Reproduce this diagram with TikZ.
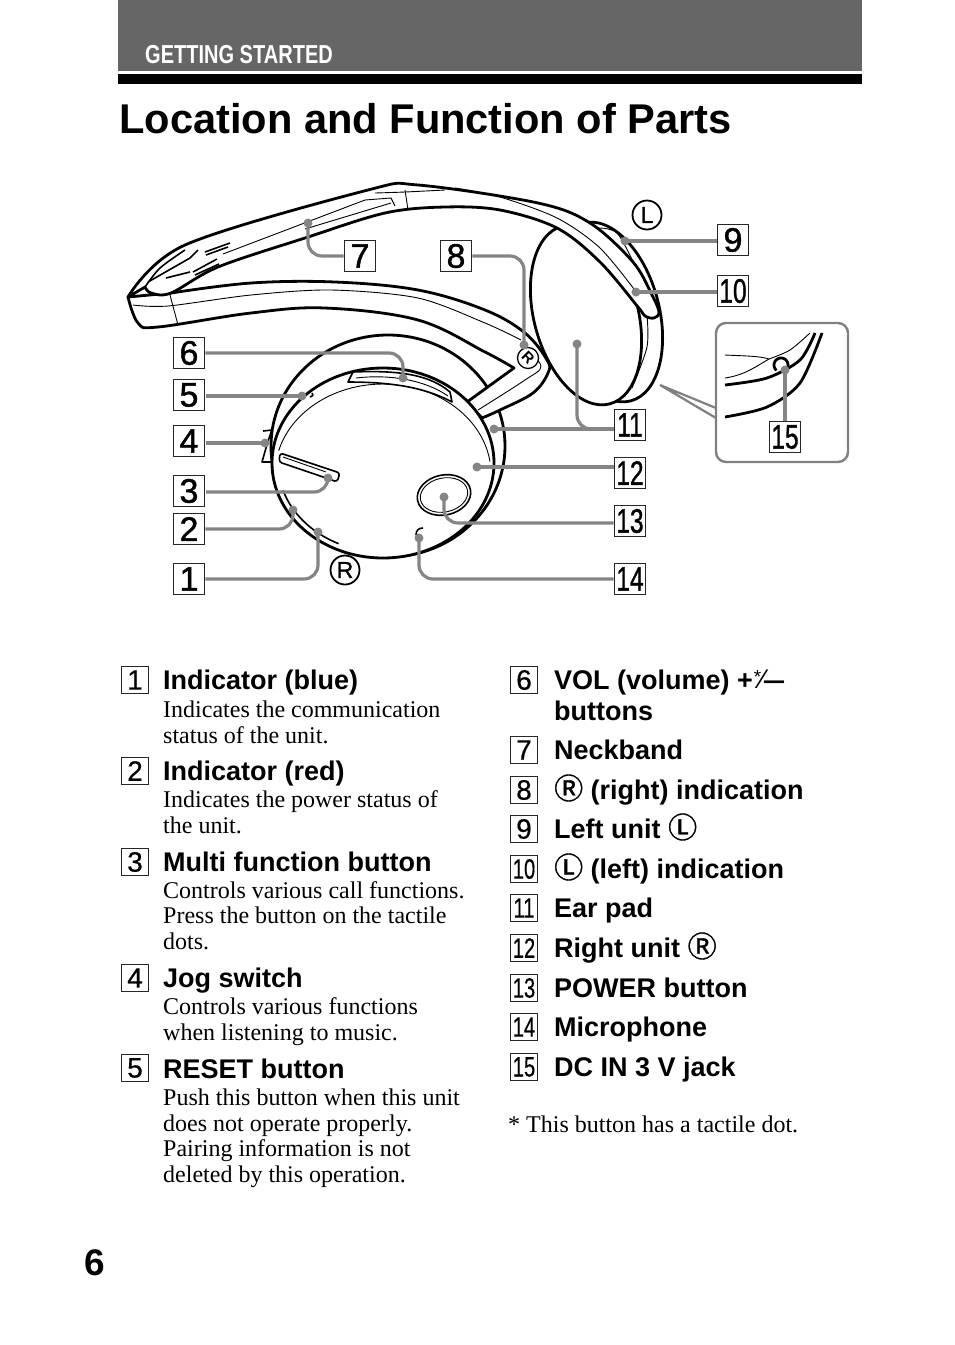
\documentclass[tikz,border=0pt]{standalone}
\usepackage{fontspec}
\usepackage{graphicx}
\setmainfont{Liberation Serif}
\setsansfont{Liberation Sans}
\newfontfamily\cjkm[FakeBold=1.2]{Noto Sans CJK JP}
\newfontfamily\partsans[FakeBold=1.3]{Liberation Sans}
\newfontfamily\listsans[FakeBold=0.5]{Liberation Sans}
\usetikzlibrary{calc}
\definecolor{leadgray}{gray}{0.52}
\newcommand{\cR}{{\mdseries\cjkm\fontsize{29}{29}\selectfont Ⓡ}}
\newcommand{\cL}{{\mdseries\cjkm\fontsize{29}{29}\selectfont Ⓛ}}
\newcommand{\nn}[1]{\scalebox{0.72}[1]{#1}}
\tikzset{x=1pt,y=-1pt,
 thick line/.style={line width=2.8pt,line join=round},
 mid line/.style={line width=1.6pt,line join=round},
 thin line/.style={line width=0.9pt,line join=round},
 leader/.style={draw=leadgray,line width=3.2pt,rounded corners=14pt},
 dotend/.style={circle,fill=leadgray,draw=none,inner sep=0pt,minimum size=9pt},
 partbox/.style={draw=black!85,line width=1.8pt,fill=white,minimum size=31pt,inner sep=0pt,font=\partsans\fontsize{34}{34}\selectfont},
 listbox/.style={draw=black!85,line width=1.4pt,fill=white,minimum size=27pt,inner sep=0pt,font=\listsans\fontsize{28}{28}\selectfont},
 headtext/.style={anchor=base west,inner sep=0pt,font=\sffamily\bfseries\fontsize{27}{27}\selectfont},
 desctext/.style={anchor=base west,inner sep=0pt,font=\rmfamily\fontsize{24}{24}\selectfont},
 circmark/.style={circle,draw=black,line width=1.8pt,inner sep=0pt,minimum size=29pt,font=\partsans\fontsize{23}{23}\selectfont},
}
\begin{document}
\begin{tikzpicture}
\useasboundingbox (0,0) rectangle (954,1345);
\fill[white] (0,0) rectangle (954,1345);
% header
\fill[black!60] (118,0) rectangle (862,71);
\fill[black] (118,74) rectangle (862,84);
\node[anchor=base west,inner sep=0pt,text=white,font=\sffamily\bfseries\fontsize{26}{26}\selectfont] (hdr) at (145,63) {\scalebox{0.77}[1]{GETTING STARTED}};
\node[anchor=base west,inner sep=0pt,font=\sffamily\bfseries\fontsize{41.6}{42}\selectfont] (title) at (119,133) {Location and Function of Parts};
\node[anchor=base west,inner sep=0pt,font=\sffamily\bfseries\fontsize{37}{37}\selectfont] (pageno) at (84,1275) {6};
% left unit
\draw[thick line,fill=white,rotate around={15:(607,312)}] (607,312) ellipse (52 and 92);
\draw[thin line] plot[smooth] coordinates {(647,315)(647,347)(632,388)};
\draw[thick line,fill=white,rotate around={15:(586,315)}] (586,315) ellipse (52 and 92);
\draw[thin line] plot[smooth] coordinates {(595,228)(617,233)(637,270)};
% right unit back
\draw[thick line,fill=white] (388,446) ellipse (117 and 111);
% lower band + arm
\draw[thick line,fill=white] plot[smooth,tension=.6] coordinates {(128,297)(138,323)(158,327)(251,313)(325,308)(418,320)(485,352)(514,368)} -- (467,402) -- (482,418) -- plot[smooth,tension=.6] coordinates {(482,418)(500,410)(533,393)(548,373)(547,360)(525,333)(485,310)(418,290)(335,282)(251,283)(171,293)} -- cycle;
\draw[thin line] plot[smooth] coordinates {(133,305)(168,306)(251,295)(331,290)(418,298)(485,323)(521,340)};
\draw[thin line] (170,295) -- (178,325);
\draw[thin line] plot[smooth] coordinates {(478,410)(525,380)(541,366)(522,343)};
% upper band
\draw[thick line,fill=white] plot[smooth,tension=.55] coordinates {(128,297)(185,245)(368,190)(418,185)(538,203)(590,223)(633,262)(652,295)(659,312)(654,318)(645,316)(638,307)(600,262)(557,228)(500,210)(445,207)(385,213)(305,238)(218,267)(171,293)(151,293)(145,287)} -- cycle;
\draw[mid line] plot[smooth] coordinates {(145,287)(160,268)(185,250)};
\draw[thin line] (405,190) -- (408,210);
\draw[thin line] plot[smooth] coordinates {(375,193)(405,192)(445,190)};
\draw[thin line] plot[smooth] coordinates {(455,188)(500,197)(557,218)(600,248)(637,293)};
\draw[thin line] (223,254) -- (365,200) -- (391,198) -- (395,206);
\draw[thin line] (305,229) -- (391,203);
\draw[mid line] (148,282) -- (190,258) -- (198,250);
\draw[mid line] (205,252) -- (230,243);
\draw[mid line] (206,255) -- (228,247);
\draw[mid line] (166,278) -- (190,272);
\draw[mid line] (193,272) -- (217,259);
\draw[mid line] (195,275) -- (219,264);
% right unit face
\draw[thick line,fill=white] (383,463) ellipse (111 and 95);
\draw[thin line] plot[domain=8:165,samples=60] ({383+108*cos(\x)},{474-90*sin(\x)});
\draw[mid line] plot[domain=198:245,samples=30] ({383+105*cos(\x)},{463-89*sin(\x)});
\draw[mid line,fill=white] (348,382) -- (353,372) .. controls (400,370) and (430,375) .. (450,392) -- (452,402) .. controls (430,390) and (400,382) .. cycle;
\draw[thin line] (356,378) .. controls (390,374) and (425,380) .. (448,396);
\draw[mid line,fill=white,rounded corners=3pt] (280,453) -- (340,473) -- (337,482) -- (332,480) -- (279,462) -- cycle;
\draw[thin line] (283,457) -- (326,472);
\draw[mid line] (263,431) -- (272,430) -- (268,441) -- (262,462) -- (271,462);
\draw[mid line] (310,397) .. controls (313,396) and (314,394) .. (312,393);
\draw[mid line,rotate around={12:(444,495)}] (444,495) ellipse (27 and 20);
\draw[thin line,rotate around={12:(444,495)}] (444,495) ellipse (24 and 17);
\draw[mid line] (416,535) .. controls (416,530) and (419,528) .. (423,528);
% R / L indications
\node[circmark] (markL) at (647,215) {L};
\node[circmark] (markR) at (345,570) {R};
\node[circle,draw=black,line width=1.3pt,fill=white,inner sep=0pt,minimum size=21pt,rotate=-45,font=\sffamily\bfseries\fontsize{15}{15}\selectfont] (bandR) at (528,358) {R};
% inset
\draw[draw=black!50,line width=2.4pt,rounded corners=10pt,fill=white] (716,323) rectangle (848,462);
\coordinate (zoomtip) at (660,385);
\coordinate (zoomA) at (716,408);
\coordinate (zoomB) at (716,418);
\draw[draw=black!50,line width=2.2pt] (zoomA) -- (zoomtip) -- (zoomB);
\draw[thin line] (725,355) .. controls (745,356) and (760,356) .. (769,359) .. controls (755,367) and (745,375) .. (725,378);
\draw[thick line] plot[smooth] coordinates {(725,385)(767,378)(800,360)(815,333)};
\draw[thick line] plot[smooth] coordinates {(725,417)(767,407)(800,383)(822,333)};
\draw[thin line] plot[smooth] coordinates {(769,359)(790,350)(810,333)};
\draw[thick line,fill=white] plot[domain=-40:230,samples=30] ({781+7*cos(\x)},{365-7*sin(\x)});
% part label boxes
\node[partbox] (p1) at (189,579) {1};
\node[partbox] (p2) at (189,529) {2};
\node[partbox] (p3) at (189,491) {3};
\node[partbox] (p4) at (189,441) {4};
\node[partbox] (p5) at (189,395) {5};
\node[partbox] (p6) at (189,353) {6};
\node[partbox] (p7) at (360,256) {7};
\node[partbox] (p8) at (456,256) {8};
\node[partbox] (p9) at (733,240) {9};
\node[partbox] (p10) at (733,291) {\nn{10}};
\node[partbox] (p11) at (630,425) {\nn{11}};
\node[partbox] (p12) at (630,473) {\nn{12}};
\node[partbox] (p13) at (630,521) {\nn{13}};
\node[partbox] (p14) at (630,579) {\nn{14}};
\node[partbox] (p15) at (785,437) {\nn{15}};
% leaders
\coordinate (d1) at (318,532); \coordinate (d2) at (293,510); \coordinate (d3) at (328,478);
\coordinate (d4) at (265,443); \coordinate (d5) at (302,396); \coordinate (d6) at (403,378);
\coordinate (d7) at (308,223); \coordinate (d8) at (524,345); \coordinate (d9) at (625,241);
\coordinate (d10) at (636,292); \coordinate (d11a) at (494,429); \coordinate (d11b) at (577,344);
\coordinate (d12) at (477,467); \coordinate (d13) at (444,497); \coordinate (d14) at (419,538);
\coordinate (d15) at (785,370);
\draw[leader] (p1.east) -- (d1|-p1.east) -- (d1);
\draw[leader] (p2.east) -- (d2|-p2.east) -- (d2);
\draw[leader] (206,492) -- (d3|-206,492) -- (d3);
\draw[leader] (206,443) -- (d4);
\draw[leader] (206,396) -- (d5);
\draw[leader] (p6.east) -- (d6|-p6.east) -- (d6);
\draw[leader] (p7.west) -- (d7|-p7.west) -- (d7);
\draw[leader] (p8.east) -- (d8|-p8.east) -- (d8);
\draw[leader] (p9.west|-d9) -- (d9);
\draw[leader] (p10.west|-d10) -- (d10);
\draw[leader] (p11.west|-d11a) -- (d11a);
\draw[leader] (d11b) -- (d11b|-d11a) -- (p11.west|-d11a);
\draw[leader] (p12.west|-d12) -- (d12);
\draw[leader] (p13.west|-0,523) -- (d13|-0,523) -- (d13);
\draw[leader] (p14.west) -- (d14|-p14.west) -- (d14);
\draw[leader] (p15.north) -- (d15);
\foreach \d in {d1,d2,d3,d4,d5,d6,d7,d8,d9,d10,d11a,d11b,d12,d13,d14,d15} \node[dotend] at (\d) {};
% left list
\node[listbox] (l1) at (135,680) {1};
\node[headtext] (h1) at (163,689) {Indicator (blue)};
\node[desctext] (t1a) at (163,717) {Indicates the communication};
\node[desctext] (t1b) at (163,743) {status of the unit.};
\node[listbox] (l2) at (135,771) {2};
\node[headtext] (h2) at (163,780) {Indicator (red)};
\node[desctext] (t2a) at (163,807) {Indicates the power status of};
\node[desctext] (t2b) at (163,833) {the unit.};
\node[listbox] (l3) at (135,862) {3};
\node[headtext] (h3) at (163,871) {Multi function button};
\node[desctext] (t3a) at (163,898) {Controls various call functions.};
\node[desctext] (t3b) at (163,923) {Press the button on the tactile};
\node[desctext] (t3c) at (163,949) {dots.};
\node[listbox] (l4) at (135,978) {4};
\node[headtext] (h4) at (163,987) {Jog switch};
\node[desctext] (t4a) at (163,1014) {Controls various functions};
\node[desctext] (t4b) at (163,1040) {when listening to music.};
\node[listbox] (l5) at (135,1068) {5};
\node[headtext] (h5) at (163,1078) {RESET button};
\node[desctext] (t5a) at (163,1105) {Push this button when this unit};
\node[desctext] (t5b) at (163,1131) {does not operate properly.};
\node[desctext] (t5c) at (163,1156) {Pairing information is not};
\node[desctext] (t5d) at (163,1182) {deleted by this operation.};
% right list
\node[listbox] (l6) at (524,680) {6};
\node[headtext] (h6) at (554,689) {VOL (volume) +\kern1pt\raisebox{6pt}{\fontsize{19}{19}\selectfont\mdseries *}\kern-1pt\raisebox{1pt}{\mdseries⁄}\kern-2pt\scalebox{1.5}[1]{–}};
\node[headtext] (h6b) at (554,720) {buttons};
\node[listbox] (l7) at (524,750) {7};
\node[headtext] (h7) at (554,759) {Neckband};
\node[listbox] (l8) at (524,790) {8};
\node[headtext] (h8) at (554,799) {\cR\ (right) indication};
\node[listbox] (l9) at (524,829) {9};
\node[headtext] (h9) at (554,838) {Left unit \cL};
\node[listbox] (l10) at (524,869) {\nn{10}};
\node[headtext] (h10) at (554,878) {\cL\ (left) indication};
\node[listbox] (l11) at (524,908) {\nn{11}};
\node[headtext] (h11) at (554,917) {Ear pad};
\node[listbox] (l12) at (524,948) {\nn{12}};
\node[headtext] (h12) at (554,957) {Right unit \cR};
\node[listbox] (l13) at (524,988) {\nn{13}};
\node[headtext] (h13) at (554,997) {POWER button};
\node[listbox] (l14) at (524,1027) {\nn{14}};
\node[headtext] (h14) at (554,1036) {Microphone};
\node[listbox] (l15) at (524,1067) {\nn{15}};
\node[headtext] (h15) at (554,1076) {DC IN 3 V jack};
\node[desctext] (foot) at (508,1132) {* This button has a tactile dot.};
\end{tikzpicture}
\end{document}
